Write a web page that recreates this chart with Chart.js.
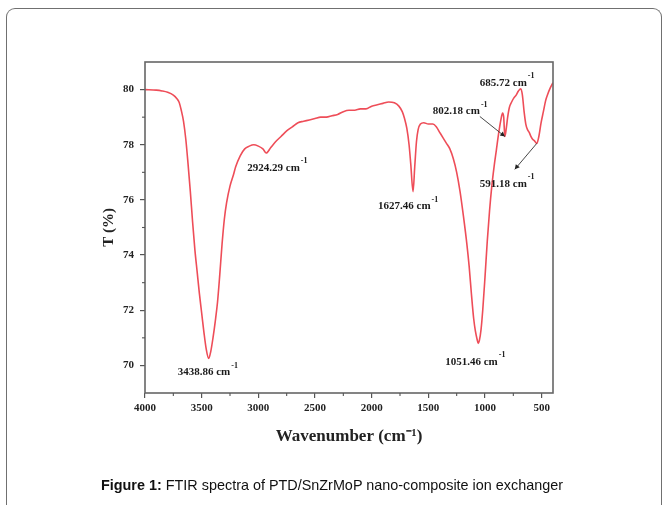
<!DOCTYPE html>
<html><head><meta charset="utf-8">
<script src="https://cdn.jsdelivr.net/npm/chart.js@4.4.0/dist/chart.umd.min.js"></script>
<style>
html,body{margin:0;padding:0;background:#fff;width:664px;height:505px;overflow:hidden;}
#frame{position:absolute;left:6px;top:8px;width:654px;height:520px;border:1.5px solid #707070;border-bottom:none;border-radius:9px 9px 0 0;}
#wrap{position:absolute;left:0;top:0;width:664px;height:505px;}
#cap{position:absolute;left:0;width:664px;top:477px;text-align:center;font-family:'Liberation Sans',Arial,sans-serif;font-size:14.4px;color:#111;}
</style></head><body>
<div id="frame"></div>
<div id="wrap"><canvas id="c" width="664" height="505"></canvas></div>
<div id="cap"><b>Figure 1:</b> FTIR spectra of PTD/SnZrMoP nano-composite ion exchanger</div>
<script>
const wavenumbers = [4000,3900,3850,3800,3750,3720,3700,3680,3660,3640,3620,3600,3580,3560,3540,3520,3500,3480,3460,3438,3420,3400,3380,3360,3340,3320,3300,3280,3250,3220,3200,3160,3120,3080,3040,3000,2960,2930,2890,2850,2800,2750,2700,2650,2600,2550,2500,2450,2400,2350,2300,2250,2200,2150,2100,2050,2000,1950,1900,1850,1800,1760,1730,1710,1690,1670,1655,1635,1620,1605,1590,1570,1540,1500,1460,1430,1400,1370,1340,1310,1280,1250,1220,1190,1160,1140,1120,1100,1085,1070,1060,1050,1035,1020,1000,980,960,940,920,900,880,860,845,835,825,812,800,785,765,745,725,705,684,670,655,640,625,610,595,580,565,543,525,505,485,465,445,425,400];
const transmittance = [80.0,79.98,79.95,79.9,79.8,79.68,79.55,79.25,78.85,78.2,77.3,76.3,75.2,74.2,73.4,72.6,71.9,71.2,70.6,70.25,70.5,71.0,71.6,72.3,73.3,74.4,75.3,75.9,76.5,76.9,77.2,77.6,77.85,77.95,78.0,77.95,77.85,77.7,77.9,78.1,78.3,78.5,78.65,78.8,78.85,78.9,78.95,79.0,79.0,79.05,79.1,79.2,79.25,79.25,79.3,79.3,79.4,79.45,79.5,79.55,79.52,79.4,79.2,78.95,78.6,78.0,77.3,76.3,77.2,78.1,78.55,78.75,78.8,78.75,78.75,78.65,78.45,78.25,78.05,77.85,77.5,77.0,76.3,75.4,74.4,73.6,72.6,71.7,71.25,70.95,70.8,70.9,71.3,72.0,73.2,74.5,75.6,76.5,77.2,77.8,78.4,78.9,79.15,79.0,78.3,78.6,79.0,79.35,79.55,79.7,79.8,79.95,80.03,79.8,79.2,78.75,78.55,78.45,78.3,78.2,78.15,78.05,78.3,78.8,79.2,79.6,79.85,80.05,80.25];
const xTickValues = [4000,3500,3000,2500,2000,1500,1000,500];
const xMinorTicks = [3750,3250,2750,2250,1750,1250,750];
const yTickValues = [70,72,74,76,78,80];
const yMinorTicks = [71,73,75,77,79];
const peakPositions = [3438,2930,1635,1060,825,684,543];
const peakLabels = ['3438.86 cm','2924.29 cm','1627.46 cm','1051.46 cm','802.18 cm','685.72 cm','591.18 cm'];
const labelOffsets = [[-31,14],[-19,15],[-35,15],[-33,19],[-72,-25],[-41,-6],[-57,41]];

function valueAt(w){
  let best=0;
  for(let i=0;i<wavenumbers.length;i++){ if(Math.abs(wavenumbers[i]-w)<Math.abs(wavenumbers[best]-w)) best=i; }
  return transmittance[best];
}

const serif = '"Liberation Serif","Times New Roman",serif';

const framePlugin = {
  id:'frame',
  afterDraw(chart){
    const {ctx, chartArea:a, scales} = chart;
    ctx.save();
    ctx.strokeStyle='#666'; ctx.lineWidth=1.6;
    ctx.strokeRect(a.left, a.top, a.right-a.left, a.bottom-a.top);
    ctx.lineWidth=1.1; ctx.strokeStyle='#555';
    xMinorTicks.forEach(v=>{const x=scales.x.getPixelForValue(v);ctx.beginPath();ctx.moveTo(x,a.bottom);ctx.lineTo(x,a.bottom+3);ctx.stroke();});
    yMinorTicks.forEach(v=>{const y=scales.y.getPixelForValue(v);ctx.beginPath();ctx.moveTo(a.left,y);ctx.lineTo(a.left-3,y);ctx.stroke();});
    ctx.fillStyle='#1a1a1a';
    ctx.textBaseline='middle';
    peakPositions.forEach((w,i)=>{
      const px=scales.x.getPixelForValue(w), py=scales.y.getPixelForValue(valueAt(w));
      const tx=px+labelOffsets[i][0], ty=py+labelOffsets[i][1];
      ctx.font='bold 11px '+serif;
      ctx.fillText(peakLabels[i], tx, ty);
      const wd=ctx.measureText(peakLabels[i]).width;
      ctx.font='bold 8px '+serif;
      ctx.fillText('-1', tx+wd+1, ty-7);
    });
    ctx.strokeStyle='#333'; ctx.lineWidth=0.9;
    {
      const w=peakPositions[4];
      const px=scales.x.getPixelForValue(w), py=scales.y.getPixelForValue(valueAt(w));
      ctx.beginPath();ctx.moveTo(px-25,py-20);ctx.lineTo(px,py);ctx.stroke();
      ctx.beginPath();ctx.moveTo(px,py);ctx.lineTo(px-5,py-1);ctx.lineTo(px-2,py-5);ctx.closePath();ctx.fillStyle='#222';ctx.fill();
    }
    {
      const w=peakPositions[6];
      const px=scales.x.getPixelForValue(w), py=scales.y.getPixelForValue(valueAt(w));
      ctx.beginPath();ctx.moveTo(px,py);ctx.lineTo(px-22,py+26);ctx.stroke();
      const ex=px-22, ey=py+26;
      ctx.beginPath();ctx.moveTo(ex,ey);ctx.lineTo(ex+1,ey-5);ctx.lineTo(ex+5,ey-2);ctx.closePath();ctx.fillStyle='#222';ctx.fill();
    }
    ctx.restore();
  }
};

new Chart(document.getElementById('c').getContext('2d'), {
  type:'line',
  data:{datasets:[{
    data: wavenumbers.map((w,i)=>({x:w,y:transmittance[i]})),
    borderColor:'#ee4d58', borderWidth:1.6, pointRadius:0, fill:false,
    cubicInterpolationMode:'monotone'
  }]},
  options:{
    responsive:false, animation:false, devicePixelRatio:1,
    layout:{padding:{left:100,right:111,top:62,bottom:60}},
    plugins:{legend:{display:false},tooltip:{enabled:false}},
    scales:{
      x:{type:'linear',reverse:true,min:400,max:4000,
        afterBuildTicks:s=>{s.ticks=xTickValues.map(v=>({value:v}));},
        afterFit:s=>{s.height=52;},
        grid:{display:true,drawOnChartArea:false,drawTicks:true,tickLength:5,color:'#555',lineWidth:1.2},
        border:{display:false},
        ticks:{padding:4,color:'#222',autoSkip:false,maxRotation:0,callback:v=>String(v),font:{family:serif,weight:'bold',size:11}},
        title:{display:true,text:'Wavenumber (cm⁻¹)',color:'#222',font:{family:serif,weight:'bold',size:17},padding:{top:10,bottom:-2}}
      },
      y:{type:'linear',min:69,max:81,
        afterBuildTicks:s=>{s.ticks=yTickValues.map(v=>({value:v}));},
        afterFit:s=>{s.width=45;},
        grid:{display:true,drawOnChartArea:false,drawTicks:true,tickLength:5,color:'#555',lineWidth:1.2},
        border:{display:false},
        ticks:{padding:6,color:'#222',callback:v=>String(v),font:{family:serif,weight:'bold',size:11}},
        title:{display:true,text:'T (%)',color:'#222',font:{family:serif,weight:'bold',size:15},padding:{top:0,bottom:0}}
      }
    }
  },
  plugins:[framePlugin]
});
</script>
</body></html>
